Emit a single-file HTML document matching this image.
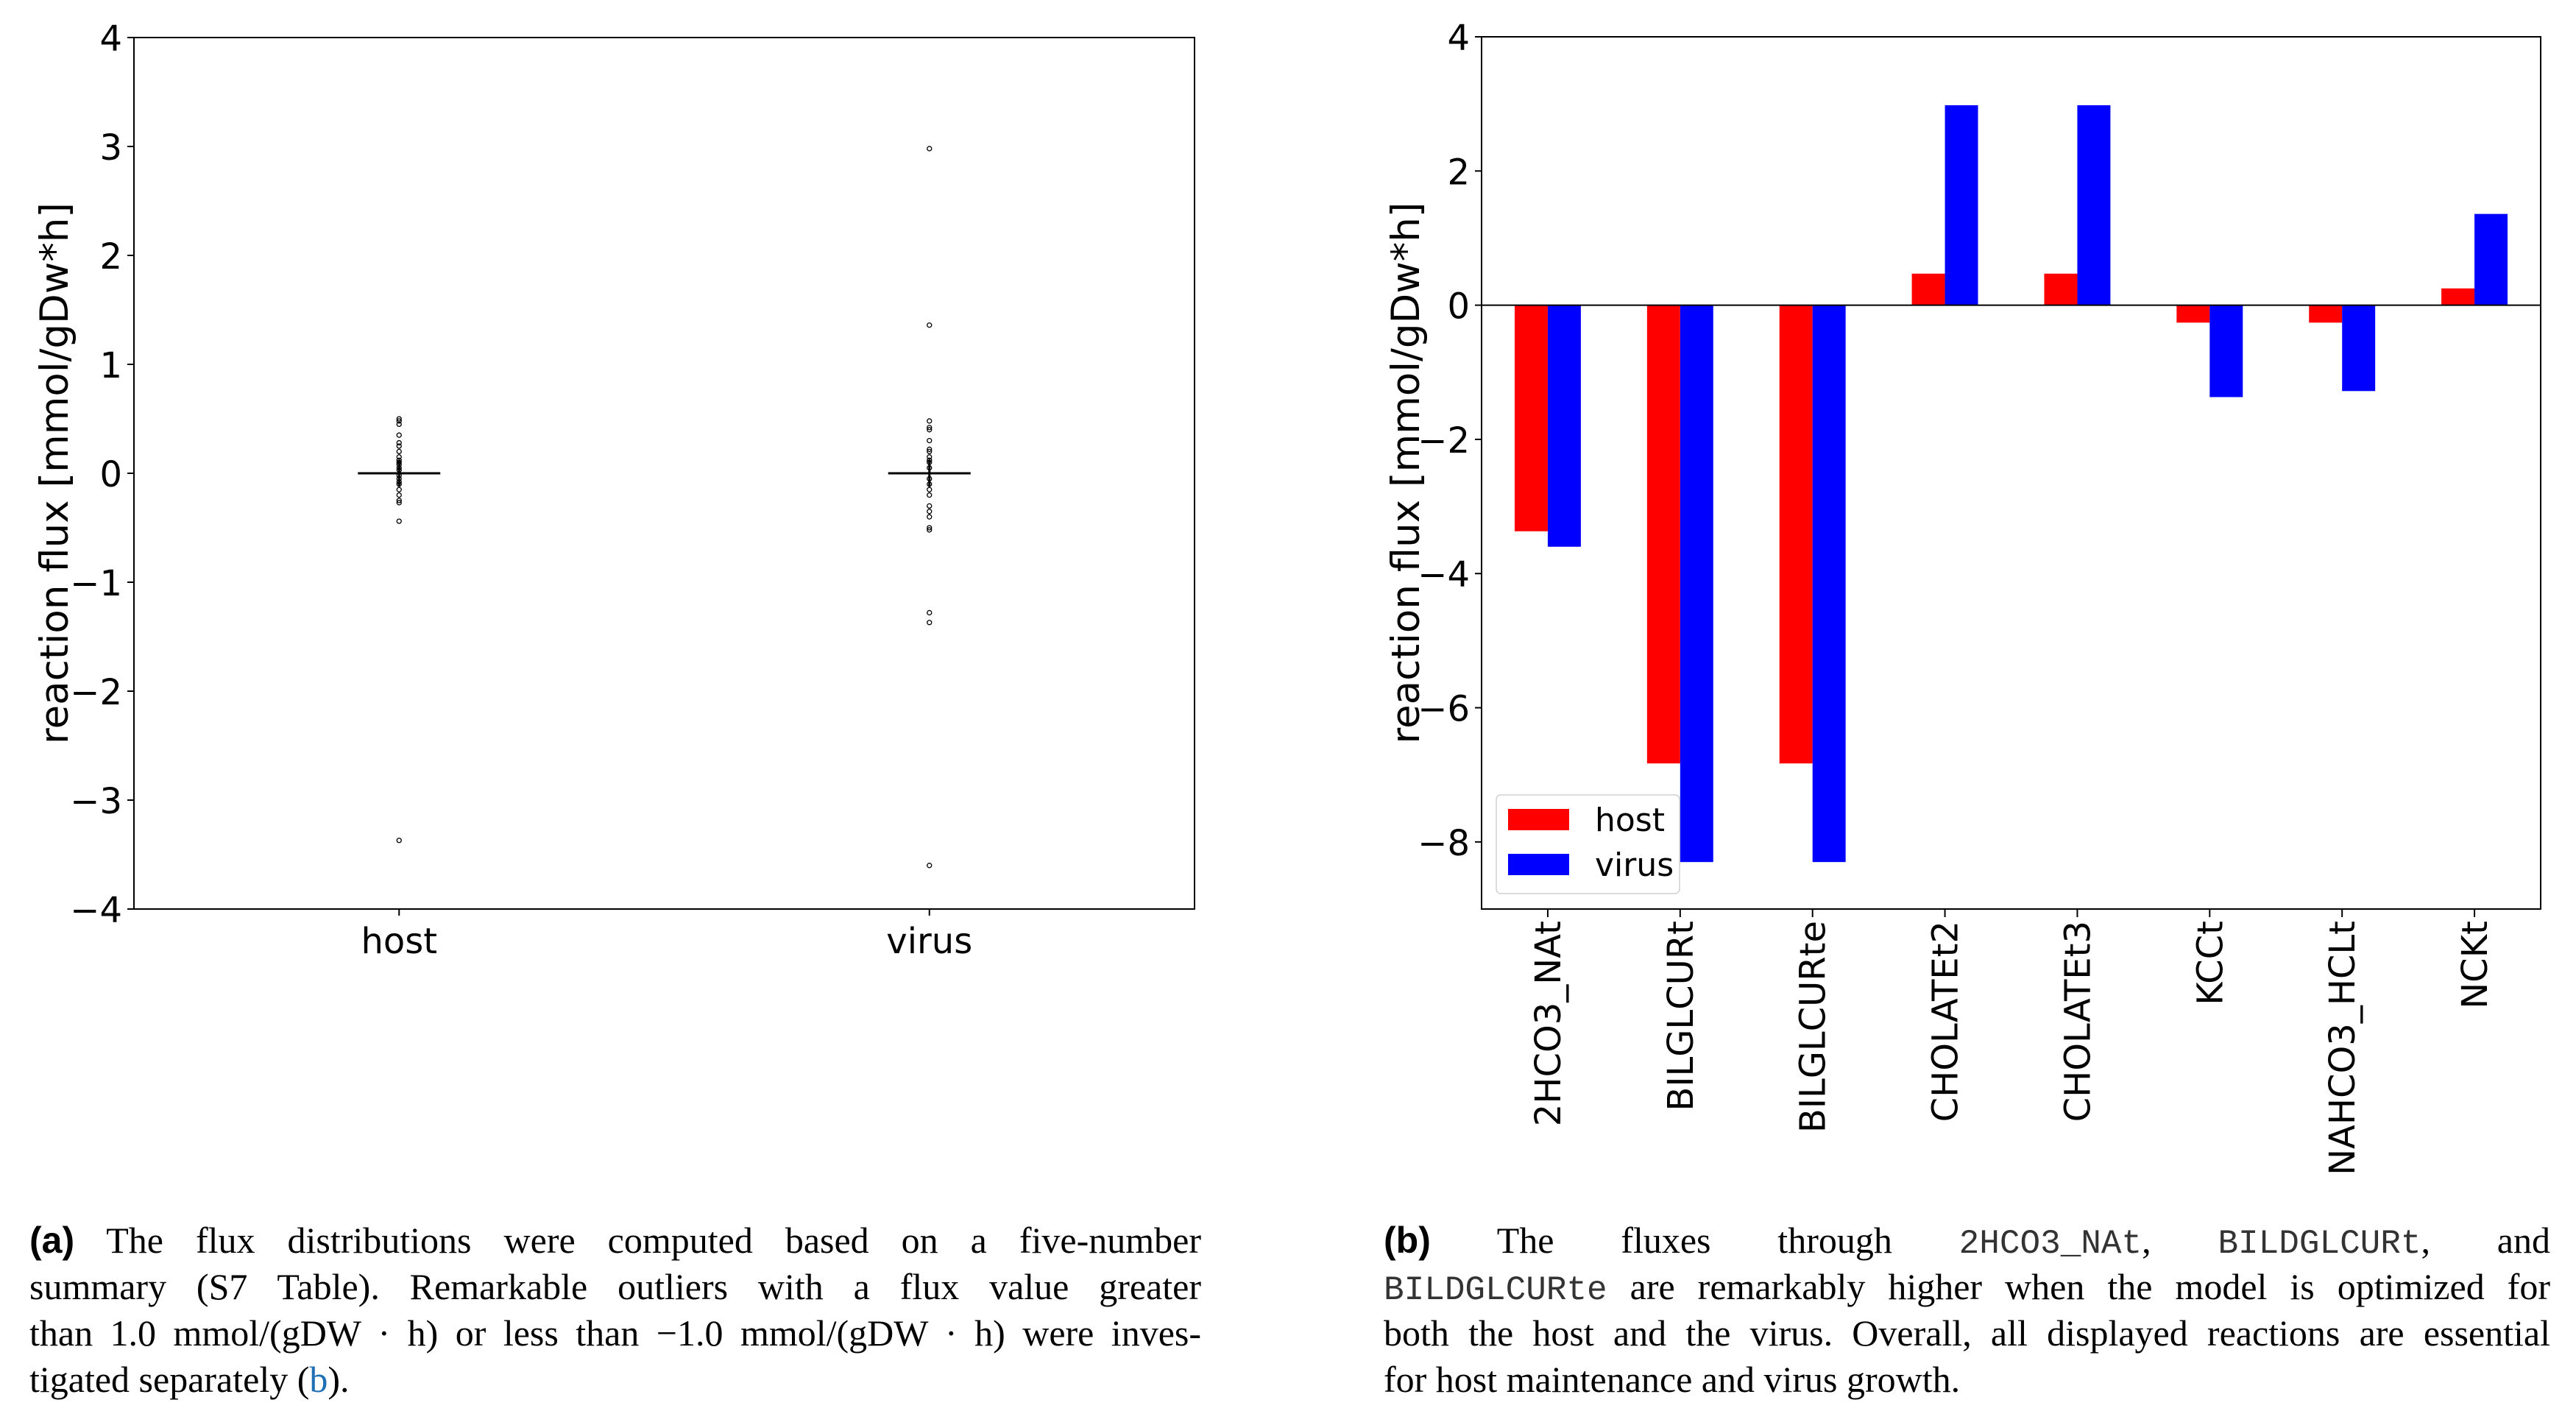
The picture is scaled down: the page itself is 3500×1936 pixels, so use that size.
<!DOCTYPE html>
<html><head><meta charset="utf-8">
<style>
html,body{margin:0;padding:0;background:#fff;}
body{width:3500px;height:1936px;position:relative;overflow:hidden;}
svg{position:absolute;left:0;top:0;}
.cap{position:absolute;font-family:"Liberation Serif",serif;font-size:50px;line-height:63px;color:#000;}
.cap div{text-align:justify;text-align-last:justify;white-space:nowrap;height:63px;}
.cap div.last{text-align-last:left;}
.cap b{font-family:"Liberation Sans",sans-serif;}
.mono{font-family:"Liberation Mono",monospace;font-size:46px;color:#333;}
</style></head>
<body>
<svg id="chart" width="3500" height="1936" xmlns="http://www.w3.org/2000/svg" font-family="'DejaVu Sans','Liberation Sans',sans-serif"></svg>

<div class="cap" style="left:40px;top:1654px;width:1592px;">
<div><b>(a)</b> The flux distributions were computed based on a five-number</div>
<div>summary (S7 Table). Remarkable outliers with a flux value greater</div>
<div>than 1.0 mmol/(gDW · h) or less than −1.0 mmol/(gDW · h) were inves-</div>
<div class="last">tigated separately (<span style="color:#1f6fb5">b</span>).</div>
</div>
<div class="cap" style="left:1880px;top:1654px;width:1585px;">
<div><b>(b)</b> The fluxes through <span class="mono">2HCO3_NAt</span>, <span class="mono">BILDGLCURt</span>, and</div>
<div><span class="mono">BILDGLCURte</span> are remarkably higher when the model is optimized for</div>
<div>both the host and the virus. Overall, all displayed reactions are essential</div>
<div class="last">for host maintenance and virus growth.</div>
</div>

<script>
// ---- Panel (a) data ----
const boxCats = ["host", "virus"];
const boxMedians = [0, 0];
const hostFliers = [0.5, 0.48, 0.45, 0.35, 0.28, 0.25, 0.2, 0.15, 0.12, 0.1, 0.08, 0.05, 0.03, -0.02, -0.05, -0.08, -0.1, -0.15, -0.2, -0.25, -0.27, -0.44, -3.37];
const virusFliers = [2.98, 1.36, 0.48, 0.42, 0.4, 0.3, 0.22, 0.2, 0.15, 0.12, 0.1, 0.05, -0.05, -0.1, -0.15, -0.2, -0.3, -0.35, -0.4, -0.5, -0.52, -1.28, -1.37, -3.6];
const aTicks = [-4, -3, -2, -1, 0, 1, 2, 3, 4];
const aTickLabels = ["\u22124", "\u22123", "\u22122", "\u22121", "0", "1", "2", "3", "4"];
// ---- Panel (b) data ----
const reactions = ["2HCO3_NAt", "BILGLCURt", "BILGLCURte", "CHOLATEt2", "CHOLATEt3", "KCCt", "NAHCO3_HCLt", "NCKt"];
const hostVals = [-3.37, -6.83, -6.83, 0.47, 0.47, -0.26, -0.26, 0.25];
const virusVals = [-3.6, -8.3, -8.3, 2.98, 2.98, -1.37, -1.28, 1.36];
const bTicks = [-8, -6, -4, -2, 0, 2, 4];
const bTickLabels = ["\u22128", "\u22126", "\u22124", "\u22122", "0", "2", "4"];

const NS = "http://www.w3.org/2000/svg";
const svg = document.getElementById("chart");
function mk(tag, attrs, parent) {
  const e = document.createElementNS(NS, tag);
  for (const k in attrs) e.setAttribute(k, attrs[k]);
  (parent || svg).appendChild(e);
  return e;
}
const FS = 48;
const LFS = 53;

// ===== Panel (a) =====
const A = {l:182, r:1623, t:51, b:1235, ymin:-4, ymax:4, xmin:0.5, xmax:2.5};
const ayS = v => A.b - (v - A.ymin) / (A.ymax - A.ymin) * (A.b - A.t);
const axS = v => A.l + (v - A.xmin) / (A.xmax - A.xmin) * (A.r - A.l);
const gA = mk("g", {});


const frameA = mk("rect", {x:A.l, y:A.t, width:A.r-A.l, height:A.b-A.t, fill:"none", stroke:"#000", "stroke-width":2}, gA);


aTicks.forEach((v, i) => {
  const y = ayS(v);
  const tk = mk("line", {x1:A.l-9, x2:A.l, y1:y, y2:y, stroke:"#000", "stroke-width":2}, gA);
  
  
  const t = mk("text", {x:A.l-16, y:y+18, "text-anchor":"end", "font-size":FS}, gA);
  t.textContent = aTickLabels[i];
  
  
});
const ylabA = mk("text", {transform:`translate(92,${(A.t+A.b)/2}) rotate(-90)`, "text-anchor":"middle", "font-size":LFS}, gA);
ylabA.textContent = "reaction flux [mmol/gDw*h]";


const fliers = [hostFliers, virusFliers];
boxCats.forEach((c, i) => {
  const x = axS(i + 1);
  const tk = mk("line", {x1:x, x2:x, y1:A.b, y2:A.b+9, stroke:"#000", "stroke-width":2}, gA);
  
  
  const t = mk("text", {x:x, y:A.b+60, "text-anchor":"middle", "font-size":FS}, gA);
  t.textContent = c;
  
  
  const ym = ayS(boxMedians[i]);
  const med = mk("line", {x1:x-56, x2:x+56, y1:ym, y2:ym, stroke:"#000", "stroke-width":3}, gA);
  
  
  const vl = mk("line", {x1:x, x2:x, y1:ayS(0.12), y2:ayS(-0.12), stroke:"#000", "stroke-width":3}, gA);
  
  
  fliers[i].forEach(v => {
    const p = mk("circle", {cx:x, cy:ayS(v), r:3, fill:"none", stroke:"#000", "stroke-width":1.3}, gA);
    
    
  });
});

// ===== Panel (b) =====
const B = {l:2013, r:3452, t:50, b:1235, ymin:-9, ymax:4, xmin:-0.5, xmax:7.5};
const byS = v => B.b - (v - B.ymin) / (B.ymax - B.ymin) * (B.b - B.t);
const bxS = v => B.l + (v - B.xmin) / (B.xmax - B.xmin) * (B.r - B.l);
const gB = mk("g", {});


const bw = 0.25;
reactions.forEach((r, i) => {
  const x0 = bxS(i - bw), x1 = bxS(i), x2 = bxS(i + bw);
  const y0 = byS(0);
  const hv = hostVals[i], vv = virusVals[i];
  const hb = mk("rect", {x:x0, y:Math.min(y0, byS(hv)), width:x1-x0, height:Math.abs(byS(hv)-y0), fill:"#ff0000"}, gB);
  
  
  const vb = mk("rect", {x:x1, y:Math.min(y0, byS(vv)), width:x2-x1, height:Math.abs(byS(vv)-y0), fill:"#0000ff"}, gB);
  
  
  const xc = bxS(i);
  const tk = mk("line", {x1:xc, x2:xc, y1:B.b, y2:B.b+11, stroke:"#000", "stroke-width":2}, gB);
  
  
  const t = mk("text", {transform:`translate(${xc+17},${B.b+16}) rotate(-90)`, "text-anchor":"end", "font-size":FS}, gB);
  t.textContent = r;
  
  
});
const zl = mk("line", {x1:B.l, x2:B.r, y1:byS(0), y2:byS(0), stroke:"#000", "stroke-width":2}, gB);


const frameB = mk("rect", {x:B.l, y:B.t, width:B.r-B.l, height:B.b-B.t, fill:"none", stroke:"#000", "stroke-width":2}, gB);


bTicks.forEach((v, i) => {
  const y = byS(v);
  const tk = mk("line", {x1:B.l-9, x2:B.l, y1:y, y2:y, stroke:"#000", "stroke-width":2}, gB);
  
  
  const t = mk("text", {x:B.l-16, y:y+18, "text-anchor":"end", "font-size":FS}, gB);
  t.textContent = bTickLabels[i];
  
  
});
const ylabB = mk("text", {transform:`translate(1928,${(B.t+B.b)/2}) rotate(-90)`, "text-anchor":"middle", "font-size":LFS}, gB);
ylabB.textContent = "reaction flux [mmol/gDw*h]";


// legend
const lg = mk("g", {}, gB);


mk("rect", {x:2033, y:1080, width:249, height:134, rx:6, fill:"#fff", "fill-opacity":0.85, stroke:"#d0d0d0", "stroke-width":1.5}, lg);
const lh = mk("rect", {x:2049, y:1099, width:83, height:29, fill:"#ff0000"}, lg);


const lv = mk("rect", {x:2049, y:1160, width:83, height:29, fill:"#0000ff"}, lg);


const lt1 = mk("text", {x:2167, y:1129, "font-size":44}, lg);
lt1.textContent = "host";


const lt2 = mk("text", {x:2167, y:1190, "font-size":44}, lg);
lt2.textContent = "virus";


</script>
</body></html>
